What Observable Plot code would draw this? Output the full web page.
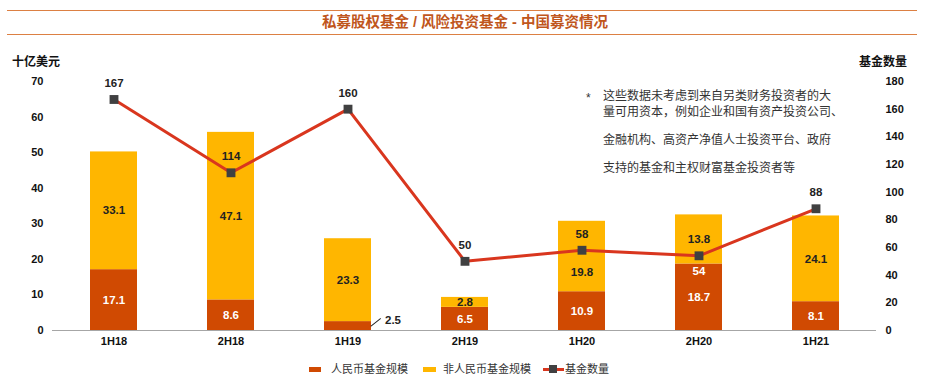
<!DOCTYPE html>
<html><head><meta charset="utf-8">
<script src="https://cdn.jsdelivr.net/npm/d3@7"></script>
<script src="https://cdn.jsdelivr.net/npm/@observablehq/plot@0.6"></script>
<style>
body{margin:0;background:#fff;font-family:"Liberation Sans","Noto Sans CJK SC",sans-serif;}
#wrap{position:relative;width:937px;height:388px;overflow:hidden;background:#fff;}
.hr{position:absolute;left:7px;width:910px;height:0;border-top:1.5px solid #dc8043;}
#title{position:absolute;top:12px;left:0;width:930px;text-align:center;font-size:14.5px;font-weight:bold;color:#c0561c;line-height:20px;}
.axlab{position:absolute;top:54px;font-size:12px;font-weight:bold;color:#111;line-height:16px;}
.note{position:absolute;left:603px;font-size:12px;color:#333;line-height:16px;white-space:nowrap;}
#chart{position:absolute;left:0;top:40px;}
#legend{position:absolute;top:361px;left:0;width:937px;font-size:11px;color:#333;}
.lg{position:absolute;top:0;line-height:16px;white-space:nowrap;}
.sw{position:absolute;top:6px;height:5px;}
</style></head><body>
<div id="wrap">
  <div class="hr" style="top:10px"></div>
  <div id="title">私募股权基金 / 风险投资基金 - 中国募资情况</div>
  <div class="hr" style="top:34px"></div>
  <div class="axlab" style="left:12px">十亿美元</div>
  <div class="axlab" style="left:859px">基金数量</div>
  <div class="note" style="left:586px;top:90px">*</div>
  <div class="note" style="top:88px">这些数据未考虑到来自另类财务投资者的大</div>
  <div class="note" style="top:104px">量可用资本，例如企业和国有资产投资公司、</div>
  <div class="note" style="top:132px">金融机构、高资产净值人士投资平台、政府</div>
  <div class="note" style="top:160px">支持的基金和主权财富基金投资者等</div>
  <div id="chart"></div>
  <div id="legend"></div>
</div>
<script>
const categories = ["1H18", "2H18", "1H19", "2H19", "1H20", "2H20", "1H21"];
const rmbValues = [17.1, 8.6, 2.5, 6.5, 10.9, 18.7, 8.1];
const nonRmbValues = [33.1, 47.1, 23.3, 2.8, 19.8, 13.8, 24.1];
const fundCounts = [167, 114, 160, 50, 58, 54, 88];
const seriesNames = ["人民币基金规模", "非人民币基金规模", "基金数量"];
const leftTicks = [0, 10, 20, 30, 40, 50, 60, 70];
const rightTicks = [0, 20, 40, 60, 80, 100, 120, 140, 160, 180];
const countLabelBelow = ["2H20"];

const colors = {rmb: "#d04a02", non: "#ffb600", line: "#d9361e", marker: "#404041"};
const yMax = 70, y2Max = 180;
const toY = v => v * yMax / y2Max;

const bars = [];
categories.forEach((c, i) => {
  const r = rmbValues[i], n = nonRmbValues[i];
  const cy = toY(fundCounts[i]);
  bars.push({cat: c, series: seriesNames[0], y1: 0, y2: r, mid: r / 2, value: r, clash: false});
  bars.push({cat: c, series: seriesNames[1], y1: r, y2: r + n, mid: r + n / 2, value: n, clash: Math.abs(r + n / 2 - cy) < 3});
});
const rmbIn = bars.filter(d => d.series === seriesNames[0] && d.value >= 4);
const rmbOut = bars.filter(d => d.series === seriesNames[0] && d.value < 4);
const nonLab = bars.filter(d => d.series === seriesNames[1] && !d.clash);
const nonLabShift = bars.filter(d => d.series === seriesNames[1] && d.clash);
const counts = categories.map((c, i) => ({cat: c, count: fundCounts[i], y: toY(fundCounts[i])}));
const above = counts.filter(d => !countLabelBelow.includes(d.cat));
const below = counts.filter(d => countLabelBelow.includes(d.cat));

const font = '"Liberation Sans","Noto Sans CJK SC",sans-serif';
const chart = Plot.plot({
  width: 937, height: 310,
  marginLeft: 52, marginRight: 61, marginTop: 41, marginBottom: 20,
  style: {fontFamily: font, fontSize: "11px", fontWeight: "bold", color: "#111", background: "transparent"},
  x: {type: "band", domain: categories, paddingInner: 0.6, paddingOuter: 0.3, label: null},
  y: {domain: [0, yMax], label: null},
  color: {domain: seriesNames.slice(0, 2), range: [colors.rmb, colors.non]},
  marks: [
    Plot.barY(bars, {x: "cat", y1: "y1", y2: "y2", fill: "series"}),
    Plot.ruleY([0], {stroke: "#a6a6a6", strokeWidth: 1.2}),
    Plot.axisX({tickSize: 0, tickPadding: 7, fontWeight: "bold", fontSize: 11}),
    Plot.axisY({ticks: leftTicks, tickSize: 0, tickPadding: 9, label: null, fontSize: 11}),
    Plot.axisY(rightTicks.map(toY), {anchor: "right", tickSize: 0, tickPadding: 9, label: null, tickFormat: d => String(Math.round(d * y2Max / yMax)), fontSize: 11}),
    Plot.text(rmbIn, {x: "cat", y: "mid", text: d => d.value.toFixed(1), fill: "#fff", fontWeight: "bold", fontSize: 11.5}),
    Plot.text(nonLab, {x: "cat", y: "mid", text: d => d.value.toFixed(1), fill: "#222", fontWeight: "bold", fontSize: 11.5}),
    Plot.text(nonLabShift, {x: "cat", y: "mid", dy: 16, text: d => d.value.toFixed(1), fill: "#222", fontWeight: "bold", fontSize: 11.5}),
    Plot.vector(rmbOut, {x: "cat", y: "mid", dx: 23, length: 12, rotate: 52, anchor: "start", stroke: "#222", strokeWidth: 1,
      shape: {draw(context, l) { context.moveTo(0, 0); context.lineTo(0, -l); }}}),
    Plot.text(rmbOut, {x: "cat", y: "mid", dx: 37, dy: -6, textAnchor: "start", text: d => d.value.toFixed(1), fill: "#222", fontWeight: "bold", fontSize: 11.5}),
    Plot.line(counts, {x: "cat", y: "y", stroke: colors.line, strokeWidth: 3}),
    Plot.dot(counts, {x: "cat", y: "y", symbol: "square", r: 5, fill: colors.marker, stroke: "none"}),
    Plot.text(above, {x: "cat", y: "y", dy: -16, text: d => String(d.count), fill: "#222", fontWeight: "bold", fontSize: 11.5}),
    Plot.text(below, {x: "cat", y: "y", dy: 16, text: d => String(d.count), fill: "#fff", fontWeight: "bold", fontSize: 11.5})
  ]
});
document.getElementById("chart").appendChild(chart);

const lg = document.getElementById("legend");
lg.innerHTML = `
  <div class="sw" style="left:309px;width:12px;background:${colors.rmb}"></div>
  <div class="lg" style="left:331px">${seriesNames[0]}</div>
  <div class="sw" style="left:423px;width:13px;background:${colors.non}"></div>
  <div class="lg" style="left:443px">${seriesNames[1]}</div>
  <div class="sw" style="left:543px;width:21px;height:3px;top:7px;background:${colors.line}"></div>
  <div style="position:absolute;left:549px;top:4px;width:8px;height:8px;background:${colors.marker}"></div>
  <div class="lg" style="left:565px">${seriesNames[2]}</div>`;
</script>
</body></html>
